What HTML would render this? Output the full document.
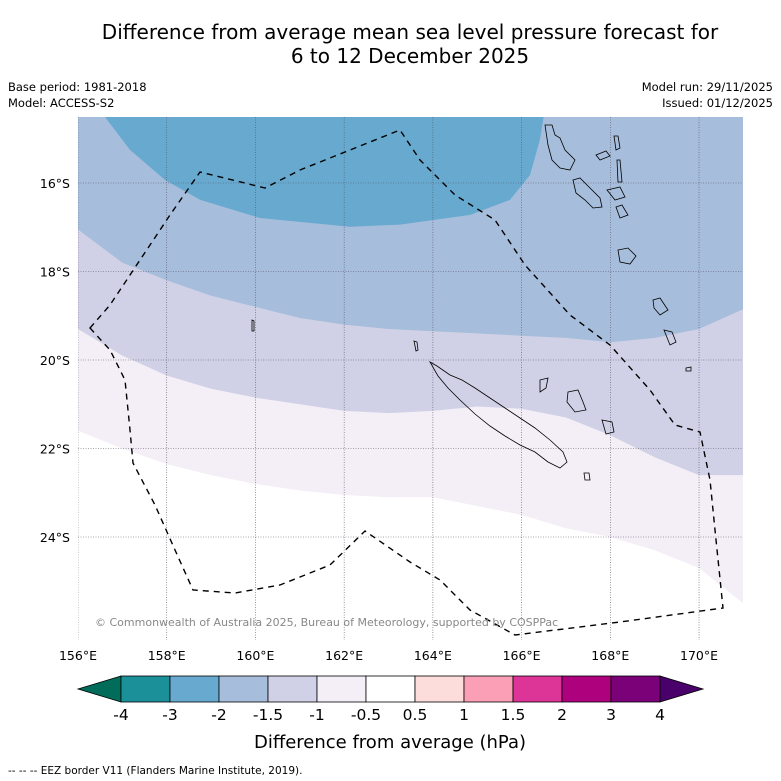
<!DOCTYPE html>
<html><head><meta charset="utf-8"><style>
body{margin:0;background:#fff;}
svg{display:block;font-family:"DejaVu Sans","Liberation Sans",sans-serif;}
</style></head><body>
<svg id="chart" width="781" height="781" viewBox="0 0 781 781">
<text x="410" y="39" text-anchor="middle" font-size="20" fill="#000">Difference from average mean sea level pressure forecast for</text>
<text x="410" y="63" text-anchor="middle" font-size="20" fill="#000">6 to 12 December 2025</text>
<text x="8" y="91" font-size="11.5">Base period: 1981-2018</text>
<text x="8" y="107" font-size="11.5">Model: ACCESS-S2</text>
<text x="773" y="91" font-size="11.5" text-anchor="end">Model run: 29/11/2025</text>
<text x="773" y="107" font-size="11.5" text-anchor="end">Issued: 01/12/2025</text>
<defs><clipPath id="mapclip"><rect x="78" y="117" width="665" height="523"/></clipPath></defs>
<g id="map" clip-path="url(#mapclip)"></g>
<g id="axes"></g>
<g id="cbar"></g>
<text x="390" y="748" text-anchor="middle" font-size="18">Difference from average (hPa)</text>
<text x="8" y="774" font-size="10.5">--  --  -- EEZ border V11 (Flanders Marine Institute, 2019).</text>
</svg>
<script>
const lonGrid=[156,157,158,159,160,161,162,163,164,165,166,167,168,169,170,171];
const bndM1=[21.6,22.0,22.35,22.6,22.8,22.95,23.05,23.1,23.1,23.3,23.5,23.8,24.0,24.3,24.7,25.5];
const bndM15=[19.3,19.9,20.35,20.65,20.85,21.0,21.15,21.2,21.15,21.05,21.1,21.3,21.7,22.2,22.6,22.6];
const bndM2=[17.05,17.8,18.2,18.55,18.8,19.05,19.2,19.3,19.35,19.4,19.45,19.5,19.6,19.5,19.3,18.85];
const blobLon=[156.45,157.17,157.96,158.75,160.1,162.13,163.26,164.84,165.74,166.19,166.41,166.53];
const blobLat=[14.3,15.25,15.93,16.38,16.79,16.99,16.94,16.72,16.38,15.82,15.03,14.3];
const xTicks=[156,158,160,162,164,166,168,170];
const yTicks=[16,18,20,22,24];
const cbLevels=["-4","-3","-2","-1.5","-1","-0.5","0.5","1","1.5","2","3","4"];
const cbColors=["#1b9099","#67a9cf","#a6bddb","#d0d1e6","#f4eef6","#ffffff","#fddcdc","#fa9fb5","#dd3497","#ae017e","#7a0177"];
const NS="http://www.w3.org/2000/svg";
const X=lon=>78+(lon-156)*44.36, Y=lat=>183+(lat-16)*44.25;
function mk(tag,attrs,parent){const e=document.createElementNS(NS,tag);for(const k in attrs)e.setAttribute(k,attrs[k]);parent.appendChild(e);return e;}
const map=document.getElementById('map'), axes=document.getElementById('axes'), cb=document.getElementById('cbar');
mk('rect',{x:78,y:117,width:665,height:523,fill:'#fff'},map);
function band(arr,color,name){
  let d='M'+X(155)+','+Y(13)+' L'+X(172)+','+Y(13);
  for(let i=lonGrid.length-1;i>=0;i--)d+=' L'+X(lonGrid[i]).toFixed(1)+','+Y(arr[i]).toFixed(1);
  d+=' L'+X(155)+','+Y(arr[0])+' Z';
  const p=mk('path',{d:d,fill:color},map);
  
  
}
band(bndM1,'#f4eef6','band-minus1');
band(bndM15,'#d0d1e6','band-minus1-5');
band(bndM2,'#a6bddb','band-minus2');
let bd='M'+blobLon.map((l,i)=>X(l).toFixed(1)+','+Y(blobLat[i]).toFixed(1)).join(' L')+' Z';
const blob=mk('path',{d:bd,fill:'#67a9cf'},map);


xTicks.forEach(t=>{const l=mk('line',{x1:X(t),x2:X(t),y1:117,y2:640,stroke:'#556','stroke-width':0.6,'stroke-dasharray':'1,1.5'},map);

});
yTicks.forEach(t=>{const l=mk('line',{x1:78,x2:743,y1:Y(t),y2:Y(t),stroke:'#556','stroke-width':0.6,'stroke-dasharray':'1,1.5'},map);

});
const isl=[
"M430,362 L437,366 L450,375 L462,380 L475,388 L490,398 L505,408 L520,418 L535,428 L550,440 L563,452 L567,462 L560,468 L548,462 L535,452 L520,445 L505,436 L490,426 L475,414 L460,400 L448,388 L438,376 Z",
"M545,125 L552,125 L555,135 L560,138 L565,150 L575,160 L570,170 L560,168 L552,160 L548,145 Z",
"M573,180 L580,178 L590,188 L600,198 L602,207 L593,208 L585,200 L576,193 Z",
"M596,155 L606,151 L610,156 L600,160 Z","M614,136 L618,136 L620,148 L616,150 Z","M617,160 L620,160 L622,182 L618,182 Z",
"M607,190 L620,187 L625,197 L615,200 Z","M616,207 L622,205 L628,215 L620,218 Z","M618,250 L628,248 L636,256 L630,264 L620,262 Z",
"M653,300 L660,298 L668,310 L660,315 L654,308 Z","M664,330 L672,332 L676,342 L670,345 Z","M686,368 L691,367 L691,371 L686,371 Z",
"M540,380 L548,378 L546,388 L540,392 Z","M568,392 L578,390 L583,402 L586,410 L575,412 L567,402 Z","M602,420 L612,422 L614,432 L606,434 Z",
"M584,473 L589,473 L590,480 L585,480 Z","M414,341 L417,342 L418,350 L416,351 Z","M252,320 L254,321 L254,331 L252,331 Z"];
isl.forEach(d=>{const p=mk('path',{d:d,fill:'none',stroke:'#000','stroke-width':0.8},map);

});
const eez="M90,328 L110,305 L140,260 L170,215 L200,172 L265,188 L300,170 L400,130 L420,160 L455,195 L495,220 L525,265 L570,315 L610,345 L650,390 L675,425 L700,432 L710,480 L715,530 L723,608 L620,622 L515,635 L470,610 L440,580 L410,562 L365,531 L330,565 L280,585 L235,593 L193,590 L175,550 L155,505 L133,463 L130,430 L125,380 L110,350 Z";
const ez=mk('path',{d:eez,fill:'none',stroke:'#000','stroke-width':1.4,'stroke-dasharray':'6,5'},map);


const cp=mk('text',{x:95,y:626,'font-size':11,fill:'#888'},map);
cp.textContent='© Commonwealth of Australia 2025, Bureau of Meteorology, supported by COSPPac';


xTicks.forEach(t=>{const e=mk('text',{x:X(t),y:660,'font-size':12.5,'text-anchor':'middle'},axes);e.textContent=t+'°E';

});
yTicks.forEach(t=>{const e=mk('text',{x:70,y:Y(t)+5,'font-size':12.5,'text-anchor':'end'},axes);e.textContent=t+'°S';

});
const cx0=121,bw=49,cy=676,ch=26;
const lt=mk('polygon',{points:`78,${cy+ch/2} ${cx0},${cy} ${cx0},${cy+ch}`,fill:'#016c59',stroke:'#000','stroke-width':0.8},cb);


const rt=mk('polygon',{points:`${cx0+bw*11},${cy} 703,${cy+ch/2} ${cx0+bw*11},${cy+ch}`,fill:'#49006a',stroke:'#000','stroke-width':0.8},cb);


cbColors.forEach((c,i)=>{const b=mk('rect',{x:cx0+i*bw,y:cy,width:bw,height:ch,fill:c,stroke:'#000','stroke-width':0.8},cb);

});
cbLevels.forEach((s,i)=>{const e=mk('text',{x:cx0+i*bw,y:720,'font-size':15.5,'text-anchor':'middle'},cb);e.textContent=s;

});
</script>
</body></html>
